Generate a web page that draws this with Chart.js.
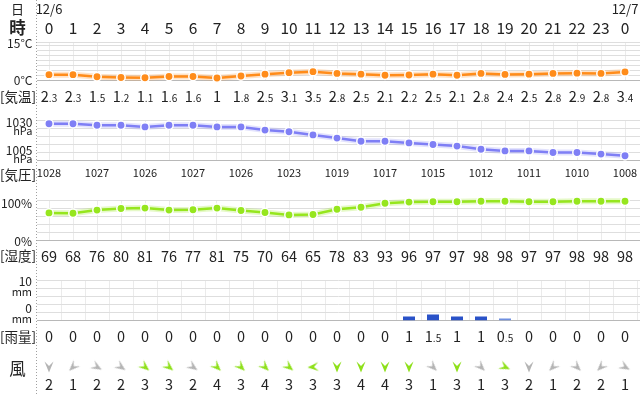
<!DOCTYPE html>
<html><head><meta charset="utf-8">
<script src="https://cdn.jsdelivr.net/npm/chart.js@4"></script>
<style>
html,body{margin:0;padding:0;background:#fff;}
#wrap{position:relative;width:640px;height:395px;overflow:hidden;background:#fff;}
#wrap canvas{position:absolute;left:0;top:0;}
</style></head><body>
<div id="wrap">
<canvas id="cT" width="640" height="395"></canvas>
<canvas id="cP" width="640" height="395"></canvas>
<canvas id="cH" width="640" height="395"></canvas>
<canvas id="cR" width="640" height="395"></canvas>
<canvas id="cW" width="640" height="395"></canvas>
</div>
<script>
// ---- data ----
const hours = [0,1,2,3,4,5,6,7,8,9,10,11,12,13,14,15,16,17,18,19,20,21,22,23,24];
const hourLabels = ['0','1','2','3','4','5','6','7','8','9','10','11','12','13','14','15','16','17','18','19','20','21','22','23','0'];
const dateLabels = [{hour:0, text:'12/6'}, {hour:24, text:'12/7'}];
const temperature = [2.3,2.3,1.5,1.2,1.1,1.6,1.6,1,1.8,2.5,3.1,3.5,2.8,2.5,2.1,2.2,2.5,2.1,2.8,2.4,2.5,2.8,2.9,2.8,3.4];
const pressure = [1028,1028,1027,1027,1026,1027,1027,1026,1026,1024,1023,1021,1019,1017,1017,1016,1015,1014,1012,1011,1011,1010,1010,1009,1008];
const pressureLabelHours = [0,2,4,6,8,10,12,14,16,18,20,22,24];
const humidity = [69,68,76,80,81,76,77,81,75,70,64,65,78,83,93,96,97,97,98,98,97,97,98,98,98];
const rainfall = [0,0,0,0,0,0,0,0,0,0,0,0,0,0,0,1,1.5,1,1,0.5,0,0,0,0,0];
const windSpeed = [2,1,2,2,3,3,2,4,3,4,3,3,3,4,4,3,1,3,1,3,2,1,2,2,1];
const windDirection = [180,225,120,125,130,130,125,135,135,135,130,265,180,180,180,180,135,180,135,115,180,225,135,225,120];
const tempTicks = [2,4,6,8,10,12,14,15];
const pressureTicks = [1010,1015,1020,1025,1030];
const humidityTicks = [20,40,60,80,100];
const rainTicks = [2,4,6,8,10];
const rainGridHours = [0.5,1.5,2.5,3.5,4.5,5.5,6.5,7.5,8.5,9.5,10.5,11.5,12.5,13.5,14.5,15.5,16.5,17.5,18.5,19.5,20.5,21.5,22.5,23.5,24.5];

// ---- styles ----
const FONT = '"Noto Sans CJK JP", "Noto Sans", sans-serif';
const TXT = '#222';
const ORANGE = '#ff8c1a', PURPLE = '#7f7ff5', LIME = '#96e61e';
const RAIN = '#2a52c8', RAIN_LIGHT = '#6f8fe0';
const WIND_GREEN = '#8ee01a', WIND_GRAY = '#b4b4b4';

function xScale(gridVals, showGrid){
  return {
    type:'linear', min:-0.5, max:24.625, offset:false,
    display: showGrid !== false,
    afterBuildTicks: s => { s.ticks = gridVals.map(v => ({value:v})); },
    ticks:{display:false},
    grid:{color:'#ebebeb', drawTicks:false, offset:false},
    border:{display:true, color:'#b8b8b8'}
  };
}
function yScale(min, max, tickVals, showGrid){
  return {
    type:'linear', min, max,
    afterFit: s => { s.width = 37; },
    afterBuildTicks: s => { s.ticks = tickVals.map(v => ({value:v})); },
    ticks:{display:false},
    grid:{color:'#dedede', drawTicks:false, display: showGrid !== false},
    border:{display:false}
  };
}
function baseOptions(top, bottom, xs, ys){
  return {
    responsive:false, animation:false, devicePixelRatio:1, events:[],
    layout:{padding:{left:0, right:0, top:top, bottom:395-bottom}, autoPadding:false},
    plugins:{legend:{display:false}, tooltip:{enabled:false}},
    scales:{x:xs, y:ys}
  };
}
function lineSets(values, color, halo){
  const pts = values.map((v,i) => ({x:hours[i], y:v}));
  return [
    {data:pts, borderColor:color, borderWidth:2.5, pointRadius:4.2, pointBackgroundColor:color,
     pointBorderColor:'#fff', pointBorderWidth:1.5, tension:0, clip:false, order:0},
    {data:pts, borderColor:halo, borderWidth:6, pointRadius:0, tension:0, clip:false, order:1}
  ];
}

function drawNum(ctx, cx, cy, v, big, small){
  const s = String(v);
  const parts = s.split('.');
  const ip = parts[0];
  const dtext = parts.length > 1 ? '.' + parts[1] : '';
  ctx.font = big + 'px ' + FONT;
  const w1 = ctx.measureText(ip).width;
  let w2 = 0;
  if (dtext){ ctx.font = small + 'px ' + FONT; w2 = ctx.measureText(dtext).width; }
  const left = cx - (w1 + w2) / 2;
  const base = cy + big * 0.37;
  ctx.textAlign = 'left'; ctx.textBaseline = 'alphabetic';
  ctx.font = big + 'px ' + FONT; ctx.fillText(ip, left, base);
  if (dtext){ ctx.font = small + 'px ' + FONT; ctx.fillText(dtext, left + w1, base); }
}
function txt(ctx, s, x, y, size, align, weight){
  ctx.font = (weight ? weight + ' ' : '') + size + 'px ' + FONT;
  ctx.textAlign = align || 'center';
  ctx.textBaseline = 'middle';
  ctx.fillText(s, x, y);
}

const textPlugin = {
  id:'rowText',
  afterDraw(chart){
    const ctx = chart.ctx, xs = chart.scales.x;
    ctx.save();
    // dotted divider
    ctx.strokeStyle = '#a0a0a0'; ctx.lineWidth = 1; ctx.setLineDash([1,2]);
    ctx.beginPath(); ctx.moveTo(36.5, 0); ctx.lineTo(36.5, 395); ctx.stroke();
    ctx.setLineDash([]);
    ctx.fillStyle = TXT;
    // header
    txt(ctx, '日', 17.5, 9, 13);
    txt(ctx, '時', 17.5, 28, 16.5, 'center', 'bold');
    dateLabels.forEach(d => txt(ctx, d.text, xs.getPixelForValue(d.hour), 9, 13));
    hours.forEach((h,i) => txt(ctx, hourLabels[i], xs.getPixelForValue(h), 28, 15.5));
    // temperature
    txt(ctx, '15°C', 32.5, 43, 12, 'right');
    txt(ctx, '0°C', 32.5, 80.5, 12, 'right');
    txt(ctx, '[気温]', 18, 97, 13.5);
    temperature.forEach((v,i) => drawNum(ctx, xs.getPixelForValue(hours[i]), 97, v, 14.5, 10));
    // pressure
    txt(ctx, '1030', 32.5, 122.5, 12, 'right');
    txt(ctx, 'hPa', 32.5, 131, 11, 'right');
    txt(ctx, '1005', 32.5, 150, 12, 'right');
    txt(ctx, 'hPa', 32.5, 158.5, 11, 'right');
    txt(ctx, '[気圧]', 18, 175, 13.5);
    pressureLabelHours.forEach(h => txt(ctx, String(pressure[h]), xs.getPixelForValue(h), 173, 11));
    // humidity
    txt(ctx, '100%', 32, 203.5, 12, 'right');
    txt(ctx, '0%', 32, 241, 12, 'right');
    txt(ctx, '[湿度]', 18, 256, 13.5);
    humidity.forEach((v,i) => txt(ctx, String(v), xs.getPixelForValue(hours[i]), 256, 14.5));
    // rain
    txt(ctx, '10', 32, 281.5, 12, 'right');
    txt(ctx, 'mm', 32, 292, 11, 'right');
    txt(ctx, '0', 32, 308.5, 12, 'right');
    txt(ctx, 'mm', 32, 318.5, 11, 'right');
    txt(ctx, '[雨量]', 18, 336.5, 13.5);
    rainfall.forEach((v,i) => drawNum(ctx, xs.getPixelForValue(hours[i]), 336.5, v, 14.5, 10));
    // wind
    txt(ctx, '風', 17.5, 369, 16.5);
    windSpeed.forEach((v,i) => txt(ctx, String(v), xs.getPixelForValue(hours[i]), 384, 14.5));
    ctx.restore();
  }
};

// temperature
new Chart(document.getElementById('cT'), {
  type:'line',
  data:{datasets: lineSets(temperature, ORANGE, 'rgba(255,150,50,0.28)')},
  options: baseOptions(42.5, 80.5, xScale(hours), yScale(0, 15, tempTicks)),
  plugins:[textPlugin]
});
// pressure
new Chart(document.getElementById('cP'), {
  type:'line',
  data:{datasets: lineSets(pressure, PURPLE, 'rgba(127,127,245,0.22)')},
  options: baseOptions(120.5, 160.5, xScale(hours), yScale(1005, 1030, pressureTicks))
});
// humidity
new Chart(document.getElementById('cH'), {
  type:'line',
  data:{datasets: lineSets(humidity, LIME, 'rgba(150,230,30,0.25)')},
  options: baseOptions(200.5, 240.5, xScale(hours), yScale(0, 100, humidityTicks))
});
// rain
new Chart(document.getElementById('cR'), {
  type:'bar',
  data:{datasets:[{
    data: rainfall.map((v,i) => ({x:hours[i], y:v})),
    backgroundColor: rainfall.map(v => v >= 1 ? RAIN : RAIN_LIGHT),
    borderWidth:0, barPercentage:0.5, categoryPercentage:1
  }]},
  options: baseOptions(280.5, 320.5, xScale(rainGridHours), yScale(0, 10, rainTicks))
});
// wind arrows
function arrowImage(color){
  const c = document.createElement('canvas');
  c.width = 12; c.height = 12;
  const g = c.getContext('2d');
  g.fillStyle = color;
  g.beginPath();
  g.moveTo(6, 0.5); g.lineTo(10.5, 11.5); g.lineTo(6, 7); g.lineTo(1.5, 11.5);
  g.closePath(); g.fill();
  return c;
}
const arrowGreen = arrowImage(WIND_GREEN), arrowGray = arrowImage(WIND_GRAY);
new Chart(document.getElementById('cW'), {
  type:'scatter',
  data:{datasets:[{
    data: hours.map(h => ({x:h, y:0})),
    pointStyle: windSpeed.map(s => s >= 3 ? arrowGreen : arrowGray),
    rotation: windDirection,
    pointRadius:6, clip:false
  }]},
  options: baseOptions(357, 377, xScale(hours, false), yScale(-1, 1, [], false))
});
</script>
</body></html>
